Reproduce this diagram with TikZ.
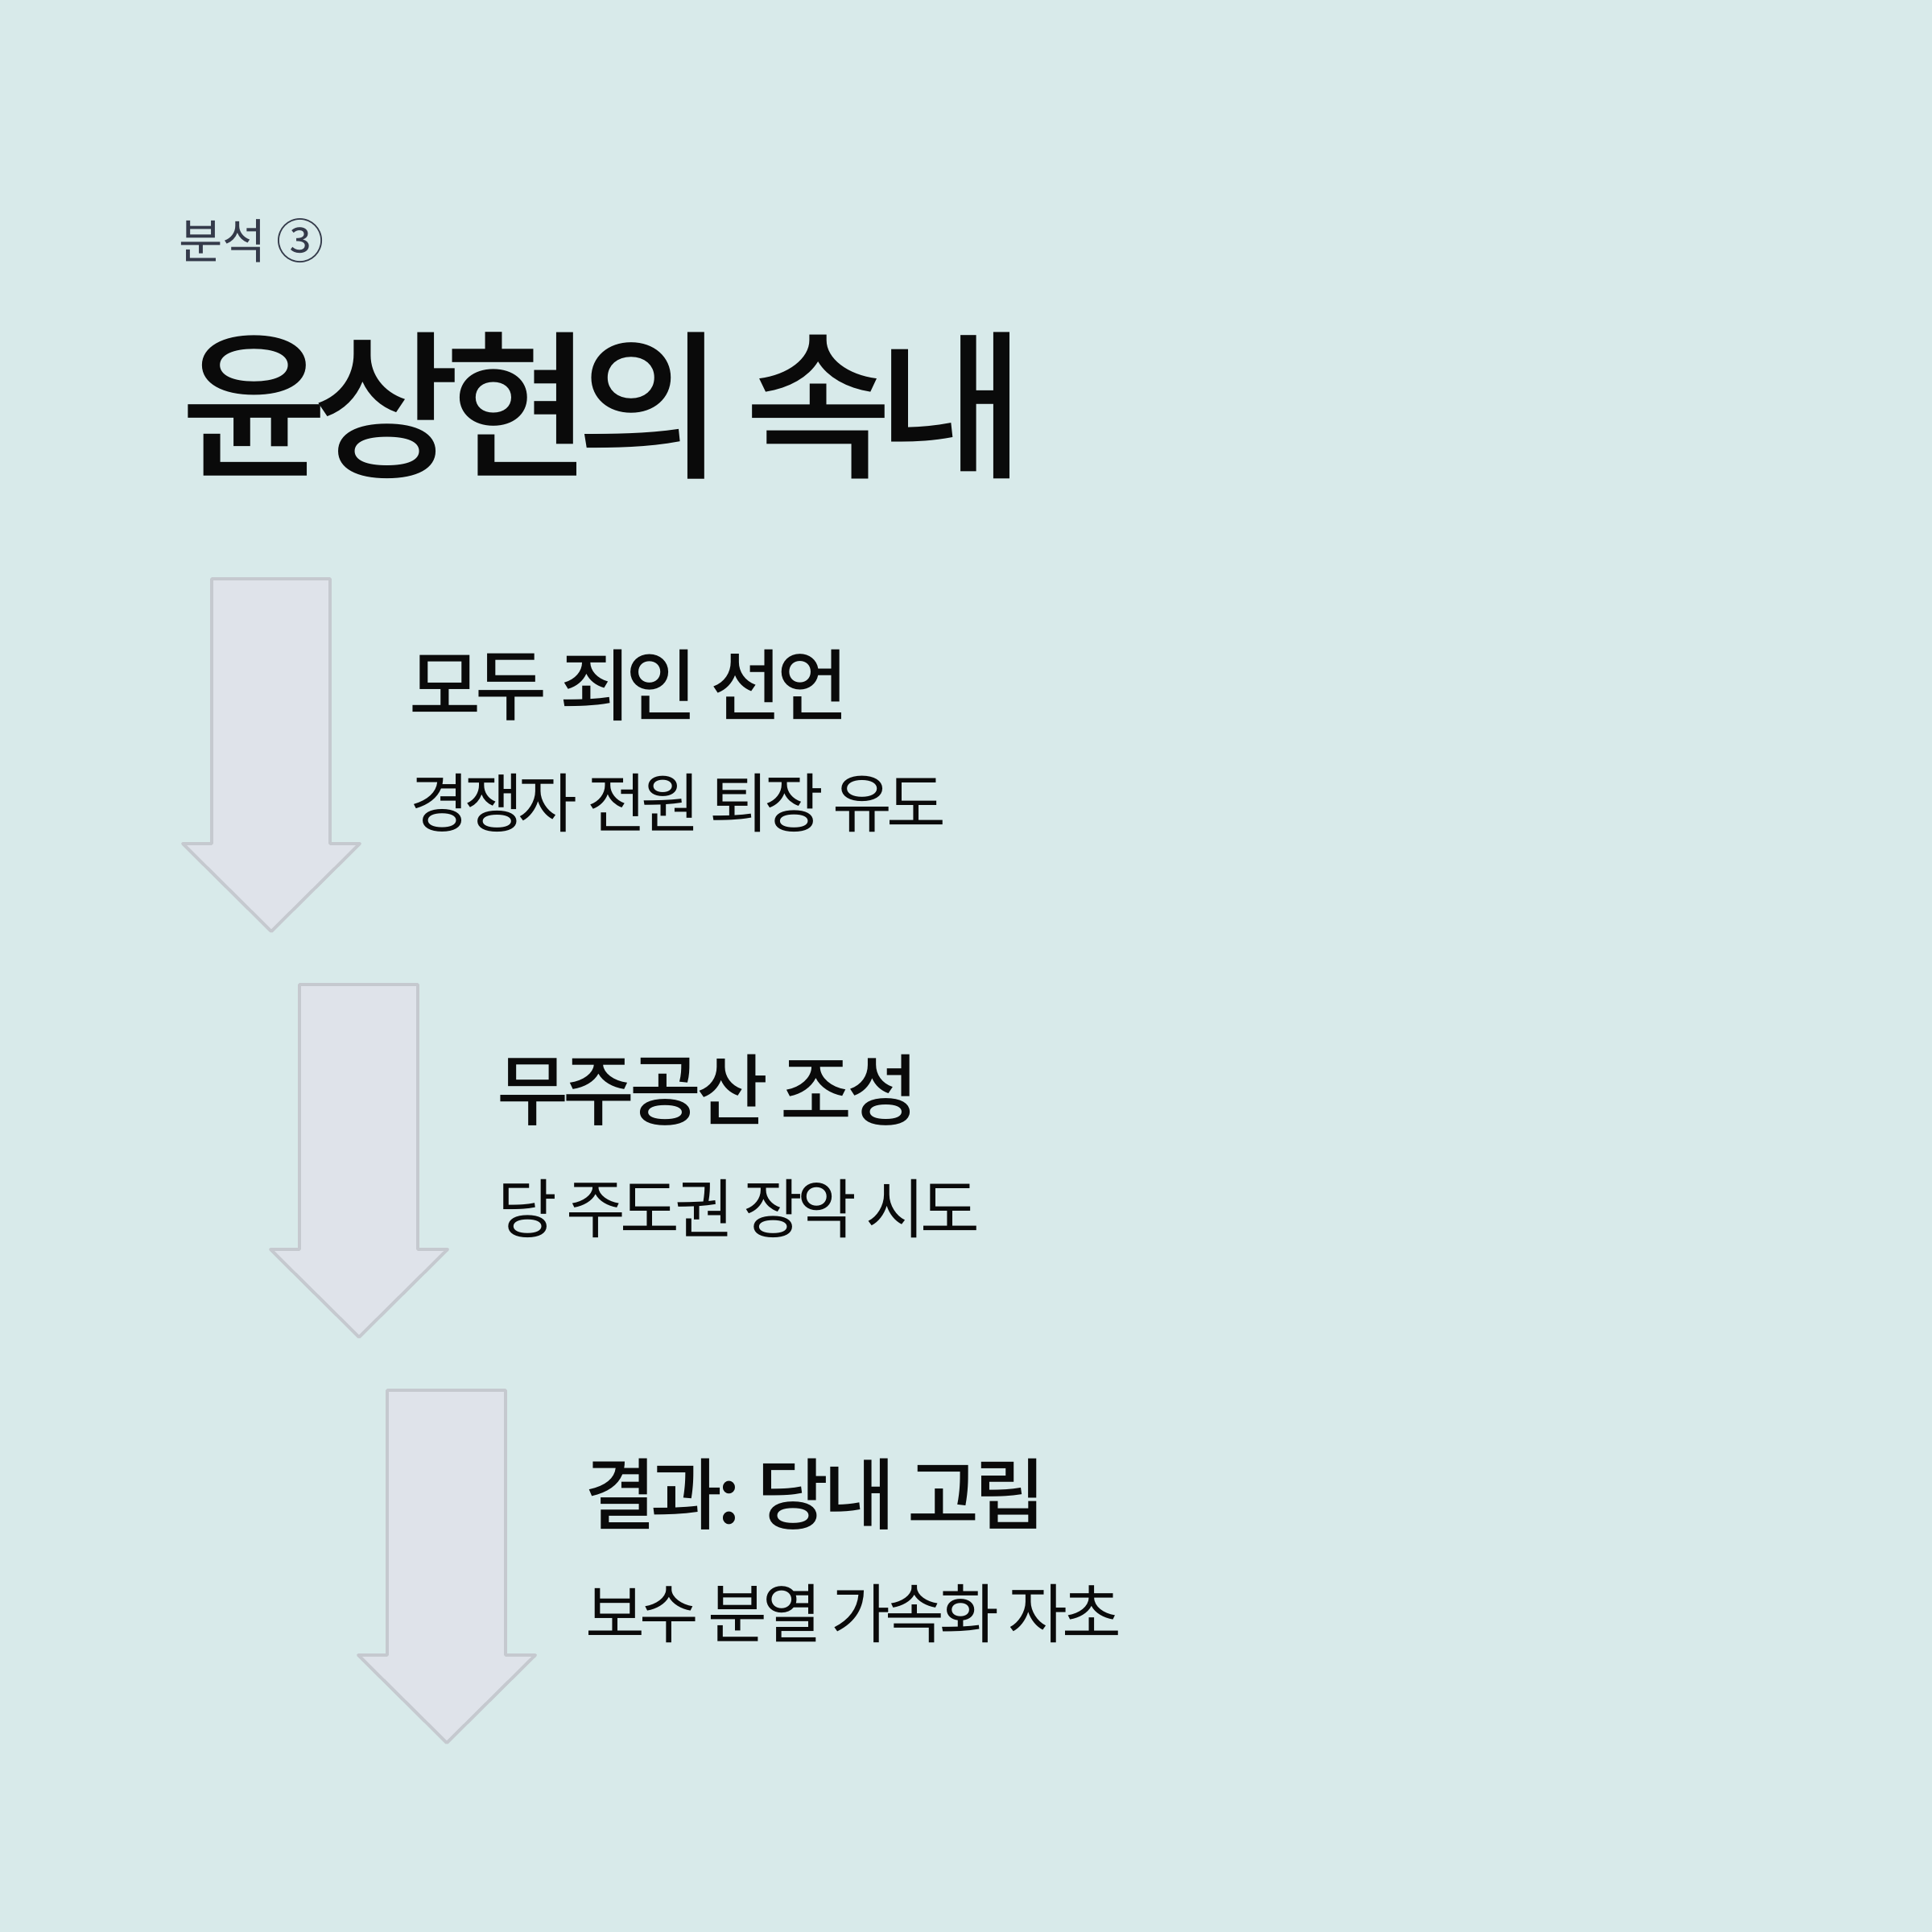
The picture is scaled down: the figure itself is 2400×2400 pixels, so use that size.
\documentclass[tikz,border=0pt]{standalone}
\usepackage{fontspec}
\IfFontExistsTF{Noto Sans CJK KR Medium}{%
  \newfontfamily\krtitle[LetterSpace=-9.5]{Noto Sans CJK KR Medium}%
  \newfontfamily\krhead[LetterSpace=-6.5]{Noto Sans CJK KR Medium}%
}{%
  \newfontfamily\krtitle[LetterSpace=-9.5]{Noto Sans CJK KR Bold}%
  \newfontfamily\krhead[LetterSpace=-6.5]{Noto Sans CJK KR Bold}%
}
\newfontfamily\krsub[LetterSpace=-8]{Noto Sans CJK KR}
\newfontfamily\kr{Noto Sans CJK KR}
\definecolor{bg}{RGB}{216,234,234}
\definecolor{arrowfill}{RGB}{223,227,234}
\definecolor{arrowline}{RGB}{197,201,207}
\definecolor{labelcol}{RGB}{52,58,74}
\definecolor{ink}{RGB}{10,10,10}
\tikzset{
  bigarrow/.style={fill=arrowfill,draw=arrowline,line width=1.1pt,line join=round},
  txt/.style={inner sep=0pt,outer sep=0pt,anchor=north west,text=ink},
  labeltxt/.style={txt,text=labelcol,font=\kr\fontsize{16.8}{20}\selectfont},
  titletxt/.style={txt,font=\krtitle\fontsize{56.6}{60}\selectfont},
  headtxt/.style={txt,font=\krhead\fontsize{27.5}{30}\selectfont},
  subtxt/.style={txt,font=\krsub\fontsize{22.8}{26}\selectfont}
}
\newcommand{\downarrowshape}[2]{%
  \draw[bigarrow,shift={(#1,#2)}] (263,719) -- (410,719) -- (410,1048) -- (447,1048)
    -- (337,1157) -- (227,1048) -- (263,1048) -- cycle;}
\begin{document}
\begin{tikzpicture}[x=0.01cm,y=-0.01cm]
\fill[bg] (0,0) rectangle (2400,2400);
\useasboundingbox (0,0) rectangle (2400,2400);
\downarrowshape{0}{0}
\downarrowshape{109}{504}
\downarrowshape{218}{1008}
\node[labeltxt] (label) at (222,272) {분석 ③};
\node[titletxt] (title) at (224,413) {윤상현의 속내};
\node[headtxt] (h1) at (508,807) {모두 죄인 선언};
\node[subtxt] (s1) at (509,961) {경쟁자 전원 퇴장 유도};
\node[headtxt] (h2) at (617,1310) {무주공산 조성};
\node[subtxt] (s2) at (618,1465) {당 주도권 장악 시도};
\node[headtxt] (h3) at (726,1812) {결과: 당내 고립};
\node[subtxt] (s3) at (727,1968) {보수 분열 가속화 자초};
\end{tikzpicture}
\end{document}
